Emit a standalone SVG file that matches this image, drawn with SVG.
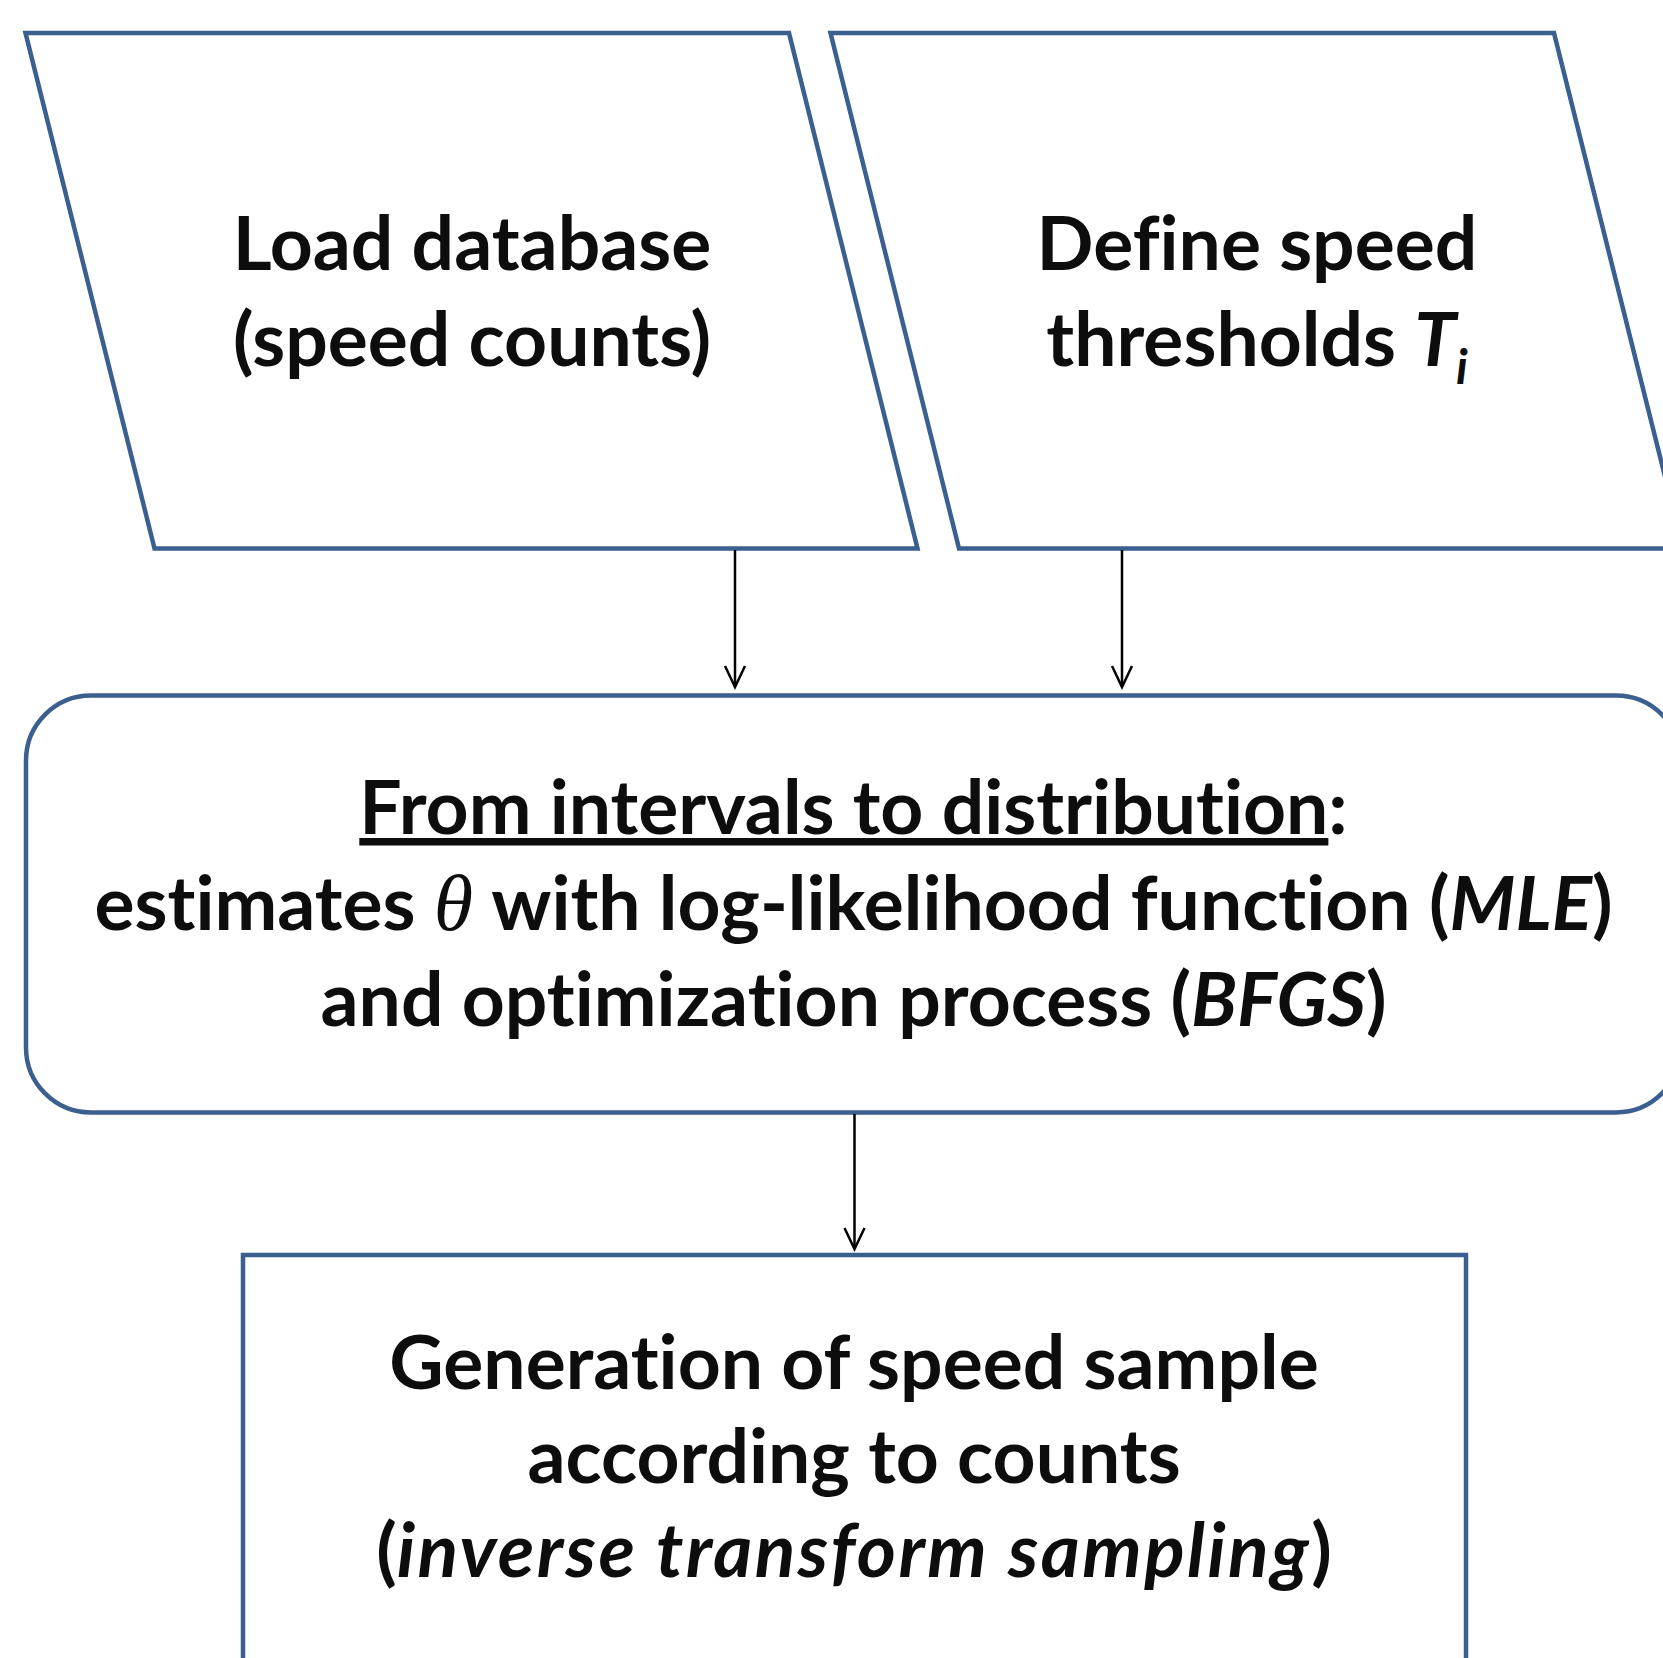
<svg xmlns="http://www.w3.org/2000/svg" width="1663" height="1658" viewBox="0 0 1663 1658">
<defs>
<style>
.shape{fill:#ffffff;stroke:#3B5F8F;stroke-width:4.5;stroke-linejoin:miter}
.lbl{font-family:Lato,"Liberation Sans",sans-serif;font-weight:bold;font-size:75px;fill:#0d0d0d;text-anchor:middle;font-variant-ligatures:none}
.it{font-style:italic}
.th{font-family:"Liberation Serif",serif;font-style:italic;font-weight:normal;font-size:80px}
.conn{stroke:#000;stroke-width:2.5;fill:none}
</style>
<marker id="arr" markerUnits="userSpaceOnUse" markerWidth="26" markerHeight="26" refX="22" refY="11" orient="auto" overflow="visible">
<path d="M1,1 L22,11 L1,21" fill="none" stroke="#000" stroke-width="2.5"/>
</marker>
</defs>
<rect width="1663" height="1658" fill="#ffffff"/>
<g id="node-load">
<polygon class="shape" points="25.5,33 789,33 917.5,548.5 154.5,548.5"/>
<text class="lbl" x="472" y="270">Load database</text>
<text class="lbl" x="472" y="365.5">(speed counts)</text>
</g>
<g id="node-thresholds">
<polygon class="shape" points="830.5,33 1554,33 1683,548.5 959,548.5"/>
<text class="lbl" x="1257" y="270">Define speed</text>
<text class="lbl" x="1257" y="365.5">thresholds <tspan class="it">T</tspan><tspan class="it" font-size="48" dy="18">i</tspan></text>
</g>
<g id="node-mle">
<rect class="shape" x="26" y="695.5" width="1655" height="417" rx="65" ry="65"/>
<text class="lbl" x="853.5" y="834"><tspan text-decoration="underline">From intervals to distribution</tspan>:</text>
<text class="lbl" x="853.5" y="930">estimates <tspan class="th">θ</tspan> with log-likelihood function (<tspan class="it">MLE</tspan>)</text>
<text class="lbl" x="853.5" y="1025.5">and optimization process (<tspan class="it">BFGS</tspan>)</text>
</g>
<g id="node-sample">
<rect class="shape" x="243" y="1255" width="1223" height="460"/>
<text class="lbl" x="854" y="1389">Generation of speed sample</text>
<text class="lbl" x="854" y="1483">according to counts</text>
<text class="lbl" x="854" y="1577">(<tspan class="it" letter-spacing="2.4">inverse transform sampling</tspan>)</text>
</g>
<g id="connectors">
<line class="conn" x1="735" y1="550" x2="735" y2="687" marker-end="url(#arr)"/>
<line class="conn" x1="1122" y1="550" x2="1122" y2="687" marker-end="url(#arr)"/>
<line class="conn" x1="854.5" y1="1114" x2="854.5" y2="1249" marker-end="url(#arr)"/>
</g>
</svg>
